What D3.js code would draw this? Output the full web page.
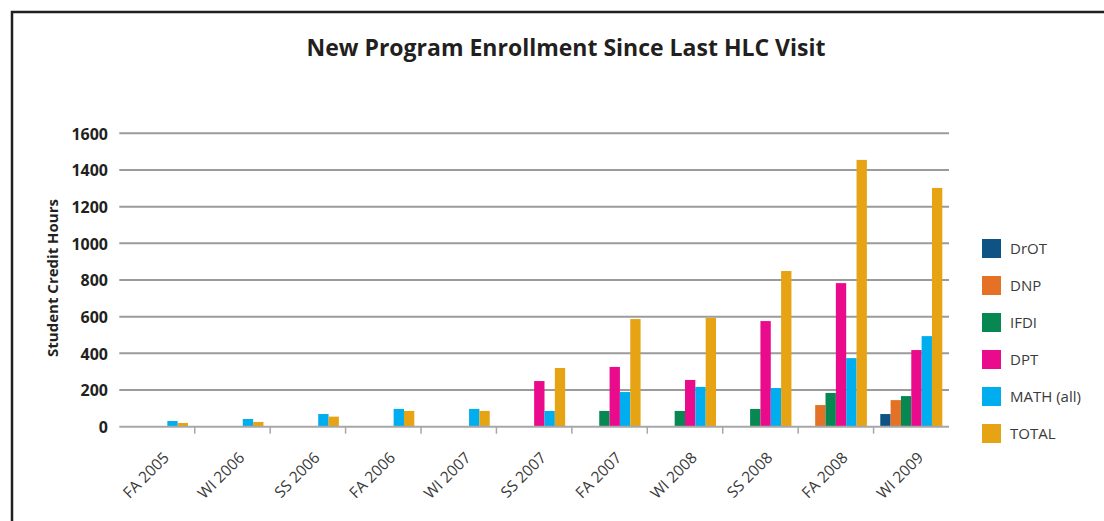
<!DOCTYPE html>
<meta charset="utf-8">
<style>
  body { margin: 0; background: #fff; }
  svg { display: block; }
  text { font-family: "Open Sans", "Noto Sans", sans-serif; }
  .grid line { stroke: #9b9b9b; stroke-width: 2; }
  .ylab text { font-weight: bold; font-size: 16px; fill: #231f20; }
  .xlab text { font-size: 15.5px; fill: #3a3a3a; }
  .legend text { font-size: 15px; fill: #3a3a3a; }
</style>
<body>
<div id="chart"></div>
<script src="https://d3js.org/d3.v7.min.js"></script>
<script>

  var terms = ["FA 2005", "WI 2006", "SS 2006", "FA 2006", "WI 2007", "SS 2007",
               "FA 2007", "WI 2008", "SS 2008", "FA 2008", "WI 2009"];

  var seriesNames = ["DrOT", "DNP", "IFDI", "DPT", "MATH (all)", "TOTAL"];
  var seriesColors = ["#0e5383", "#e57126", "#078852", "#ea0a8c", "#00aeef", "#e6a414"];

  // values, one array per program
  var drot  = [0, 0, 0, 0, 0, 0, 0, 0, 0, 0, 69];
  var dnp   = [0, 0, 0, 0, 0, 0, 0, 0, 0, 118, 145];
  var ifdi  = [0, 0, 0, 0, 0, 0, 86, 86, 97, 184, 167];
  var dpt   = [0, 0, 0, 0, 0, 249, 326, 255, 576, 783, 418];
  var math  = [31, 42, 69, 97, 97, 86, 189, 217, 211, 374, 494];
  var total = [20, 26, 55, 86, 86, 320, 587, 593, 849, 1455, 1302];

  var yTicks = [0, 200, 400, 600, 800, 1000, 1200, 1400, 1600];

  var seriesValues = [drot, dnp, ifdi, dpt, math, total];

  var w = 1104, h = 521;

  var svg = d3.select("#chart").append("svg")
    .attr("width", w)
    .attr("height", h);

  // frame: only top and left edges show
  svg.append("path")
    .attr("d", "M12,521V12H1104")
    .attr("fill", "none")
    .attr("stroke", "#231f20")
    .attr("stroke-width", 2.5);

  svg.append("text")
    .attr("x", 566)
    .attr("y", 56)
    .attr("text-anchor", "middle")
    .attr("font-weight", "bold")
    .attr("font-size", "23px")
    .attr("fill", "#231f20")
    .text("New Program Enrollment Since Last HLC Visit");

  var x = d3.scaleBand()
    .domain(terms)
    .range([119.3, 949]);

  var xs = d3.scaleBand()
    .domain(seriesNames)
    .range([6.7, x.bandwidth() - 6.7]);

  var y = d3.scaleLinear()
    .domain([0, 1600])
    .range([426.7, 133.3]);

  // gridlines
  svg.append("g")
    .attr("class", "grid")
    .selectAll("line")
    .data(yTicks.slice(1))
    .enter().append("line")
    .attr("x1", 119.3)
    .attr("x2", 949)
    .attr("y1", function (d) { return y(d); })
    .attr("y2", function (d) { return y(d); });

  // y axis labels
  var yAxis = svg.append("g")
    .attr("class", "ylab")
    .attr("transform", "translate(119,0)")
    .call(d3.axisLeft(y).tickValues(yTicks).tickFormat(d3.format("d")).tickSize(0).tickPadding(11));
  yAxis.select(".domain").remove();
  yAxis.selectAll("text").attr("dy", "0.36em");

  svg.append("text")
    .attr("transform", "translate(58,278) rotate(-90)")
    .attr("text-anchor", "middle")
    .attr("font-weight", "bold")
    .attr("font-size", "15px")
    .attr("fill", "#231f20")
    .text("Student Credit Hours");

  // bars
  var groups = svg.append("g")
    .selectAll("g")
    .data(terms)
    .enter().append("g")
    .attr("transform", function (d) { return "translate(" + x(d) + ",0)"; });

  groups.selectAll("rect")
    .data(function (d, i) {
      return seriesNames.map(function (s, j) {
        return { series: s, color: seriesColors[j], value: seriesValues[j][i] };
      });
    })
    .enter().append("rect")
    .filter(function (d) { return d.value > 0; })
    .attr("x", function (d) { return xs(d.series); })
    .attr("width", xs.bandwidth())
    .attr("y", function (d) { return y(d.value); })
    .attr("height", function (d) { return y(0) - y(d.value); })
    .attr("fill", function (d) { return d.color; });

  // x axis line and ticks between categories
  svg.append("line")
    .attr("x1", 119.3).attr("x2", 949)
    .attr("y1", y(0)).attr("y2", y(0))
    .attr("stroke", "#a7a7a9")
    .attr("stroke-width", 2);

  svg.append("g")
    .selectAll("line")
    .data(terms.slice(1))
    .enter().append("line")
    .attr("x1", function (d) { return x(d); })
    .attr("x2", function (d) { return x(d); })
    .attr("y1", y(0))
    .attr("y2", y(0) + 7)
    .attr("stroke", "#a7a7a9")
    .attr("stroke-width", 1.5);

  svg.append("g")
    .attr("class", "xlab")
    .selectAll("text")
    .data(terms)
    .enter().append("text")
    .attr("text-anchor", "end")
    .attr("transform", function (d) {
      return "translate(" + (x(d) + x.bandwidth() / 2 + 13) + "," + (y(0) + 32) + ") rotate(-45)";
    })
    .text(function (d) { return d; });

  // legend
  var legend = svg.append("g")
    .attr("class", "legend")
    .selectAll("g")
    .data(seriesNames)
    .enter().append("g")
    .attr("transform", function (d, i) { return "translate(982," + (239 + i * 37) + ")"; });

  legend.append("rect")
    .attr("width", 19)
    .attr("height", 19)
    .attr("fill", function (d, i) { return seriesColors[i]; });

  legend.append("text")
    .attr("x", 28)
    .attr("y", 9.5)
    .attr("dy", "0.35em")
    .text(function (d) { return d; });

</script>
</body>
